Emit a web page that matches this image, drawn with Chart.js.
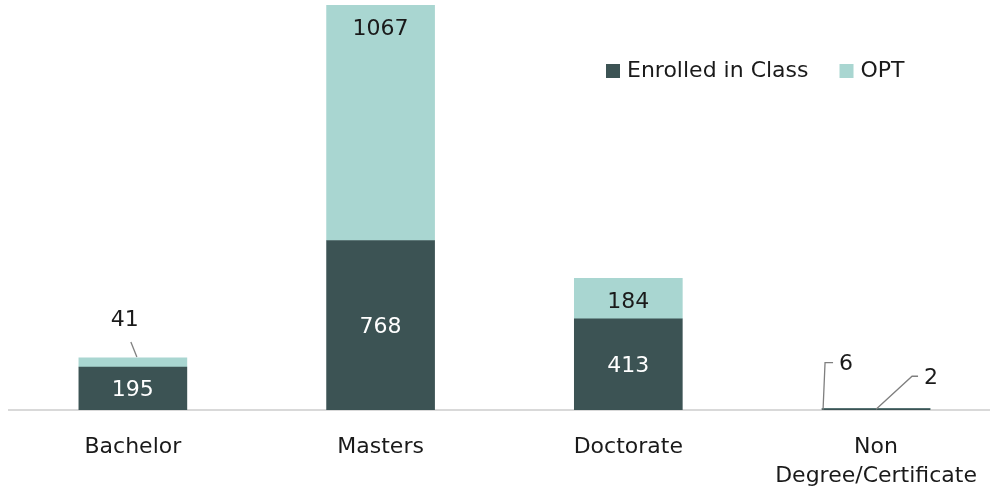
<!DOCTYPE html>
<html><head><meta charset="utf-8">
<script src="https://cdn.jsdelivr.net/npm/chart.js@4.4.1/dist/chart.umd.min.js"></script>
<style>html,body{margin:0;padding:0;background:#fff}#wrap{width:990px;height:492px}</style>
</head><body><div id="wrap"><canvas id="c" width="990" height="492"></canvas></div>
<script>
// ---- data ----
const categories = [['Bachelor'], ['Masters'], ['Doctorate'], ['Non', 'Degree/Certificate']];
const seriesNames = ['Enrolled in Class', 'OPT'];
const enrolled = [195, 768, 413, 6];
const opt = [41, 1067, 184, 2];

// ---- style ----
const FONT = 'DejaVu Sans';
const FS = 22;
const DARK = '#3c5354';
const LIGHT = '#a9d6d1';
const TEXT = '#1a1a1a';

// callout leader lines for tiny segments (offsets relative to bar element top/centre)
const callouts = [
  {ds: 1, i: 0, path: [[4, -1], [-2, -16]], label: [-8, -38], align: 'center'},
  {ds: 0, i: 3, path: [[-53, 1], [-51, -46], [-43, -46]], label: [-37, -44], align: 'left'},
  {ds: 1, i: 3, path: [[0, 1], [36, -32], [42, -32]], label: [48, -30], align: 'left'}
];
const labelModes = ['center', 'end'];

const toPoints = arr => arr.map((v, i) => ({x: i, y: v}));

const valueLabels = {
  id: 'valueLabels',
  afterDatasetsDraw(chart) {
    const ctx = chart.ctx;
    ctx.save();
    ctx.font = FS + 'px "' + FONT + '"';
    ctx.textBaseline = 'middle';
    chart.data.datasets.forEach((ds, di) => {
      const meta = chart.getDatasetMeta(di);
      meta.data.forEach((el, i) => {
        const v = ds.data[i].y;
        const co = callouts.find(c => c.ds === di && c.i === i);
        if (co) {
          ctx.strokeStyle = '#7f7f7f';
          ctx.lineWidth = 1.3;
          ctx.beginPath();
          co.path.forEach((p, k) => {
            const px = el.x + p[0], py = el.y + p[1];
            if (k === 0) ctx.moveTo(px, py); else ctx.lineTo(px, py);
          });
          ctx.stroke();
          ctx.fillStyle = TEXT;
          ctx.textAlign = co.align;
          ctx.fillText(String(v), el.x + co.label[0], el.y + co.label[1]);
          return;
        }
        ctx.textAlign = 'center';
        ctx.fillStyle = di === 0 ? '#ffffff' : TEXT;
        const y = labelModes[di] === 'center' ? (el.y + el.base) / 2 + 2 : el.y + 24;
        ctx.fillText(String(v), el.x, y);
      });
    });
    ctx.restore();
  }
};

// legend drawn inside the plot area
const legendBox = {
  id: 'legendBox',
  afterDraw(chart) {
    const ctx = chart.ctx;
    ctx.save();
    ctx.font = FS + 'px "' + FONT + '"';
    ctx.textBaseline = 'middle';
    ctx.textAlign = 'left';
    let x = 606;
    const cy = 71;
    chart.data.datasets.forEach(ds => {
      ctx.fillStyle = ds.backgroundColor;
      ctx.fillRect(x, cy - 7, 14, 14);
      ctx.fillStyle = TEXT;
      ctx.fillText(ds.label, x + 21, cy);
      x += 21 + ctx.measureText(ds.label).width + 31;
    });
    ctx.restore();
  }
};

new Chart(document.getElementById('c'), {
  type: 'bar',
  data: {
    datasets: [
      {label: seriesNames[0], data: toPoints(enrolled), backgroundColor: DARK, borderWidth: 0, barThickness: 108},
      {label: seriesNames[1], data: toPoints(opt), backgroundColor: LIGHT, borderWidth: 0, barThickness: 108}
    ]
  },
  options: {
    responsive: false,
    animation: false,
    devicePixelRatio: 1,
    layout: {padding: {top: 5, left: 9, right: 0, bottom: 0}},
    scales: {
      x: {
        type: 'linear',
        stacked: true,
        offset: false,
        min: -0.5,
        max: 3.46,
        grid: {display: false, drawTicks: false},
        border: {display: true, color: '#d9d9d9', width: 2},
        afterBuildTicks: axis => { axis.ticks = categories.map((c, i) => ({value: i})); },
        afterFit: axis => { axis.height = 82; axis.paddingLeft = 0; axis.paddingRight = 0; },
        ticks: {
          padding: 23,
          autoSkip: false,
          maxRotation: 0,
          color: TEXT,
          font: {family: FONT, size: FS, lineHeight: 1.3},
          callback: v => categories[Math.round(v)] || ''
        }
      },
      y: {
        stacked: true,
        display: false,
        min: 0,
        max: 1835
      }
    },
    plugins: {
      tooltip: {enabled: false},
      legend: {display: false}
    }
  },
  plugins: [valueLabels, legendBox]
});
</script></body></html>
